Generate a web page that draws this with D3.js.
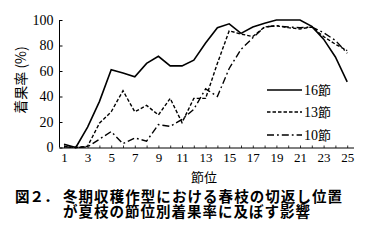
<!DOCTYPE html>
<html><head><meta charset="utf-8">
<script src="https://cdn.jsdelivr.net/npm/d3@7"></script>
<style>
html,body{margin:0;padding:0;background:#fff;}
svg{display:block;}
.serif{font-family:"Liberation Serif","DejaVu Serif",serif;}
</style></head>
<body>
<svg id="c" width="384" height="241"></svg>
<script>
const nodes = d3.range(1, 26);
const xTicks = [1,3,5,7,9,11,13,15,17,19,21,23,25];
const yTicks = [0,20,40,60,80,100];
const s16 = [2.5,0,16,36,61,58.5,55.5,66,71.5,64,64,68.5,82,94,97,89.5,94.5,97.5,100,100,100,95,85,71,51.5];
const s13 = [1,0,1,19,28,44.5,28,33,25.5,38.5,19.5,38.5,38.5,66,91.5,89,87,94.5,95.5,94,93,94.5,87,81,76];
const s10 = [0.5,0,0.5,6.5,12.5,3,7.5,5,18,16.5,22,30,46,40,62,77,86,94.5,95.5,94.5,94,94.5,90,84,74];
const seriesNames = ["16","13","10"];
const seriesData = [s16, s13, s10];
const dashes = [null, "3.5,2", "7,3,1.8,3"];

const svg = d3.select("#c");
const x = d3.scaleLinear().domain([1,25]).range([64,347.2]);
const y = d3.scaleLinear().domain([0,100]).range([147.5,20]);
const cjk = "'Noto Sans CJK JP',sans-serif";

svg.append("line").attr("x1",59.5).attr("x2",59.5).attr("y1",y(100)).attr("y2",y(0)).attr("stroke","#000").attr("stroke-width",1);
svg.append("line").attr("x1",59.5).attr("x2",354).attr("y1",y(0)+0.5).attr("y2",y(0)+0.5).attr("stroke","#000").attr("stroke-width",1);

const yAxis = d3.axisLeft(y).tickValues(yTicks).tickSize(-3).tickPadding(6).tickFormat(d3.format("d"));
const gy = svg.append("g").attr("transform","translate(59.5,0)").call(yAxis);
gy.attr("font-family",null).attr("font-size",null);
gy.select(".domain").remove();
gy.selectAll("text").attr("class","serif").style("font-size","14px").attr("fill","#000");
gy.selectAll("line").attr("stroke","#000");

const xAxis = d3.axisBottom(x).tickValues(nodes).tickSize(-2.5).tickPadding(5).tickFormat(d => xTicks.includes(d) ? d : "");
const gx = svg.append("g").attr("transform",`translate(0,${y(0)+0.5})`).call(xAxis);
gx.attr("font-family",null).attr("font-size",null);
gx.select(".domain").remove();
gx.selectAll("text").attr("class","serif").style("font-size","13px").attr("fill","#000");
gx.selectAll("line").attr("stroke","#000").attr("stroke-width",0.8);

const line = d3.line().x((d,i)=>x(nodes[i])).y(d=>y(d));
seriesData.forEach((s,k)=>{
  svg.append("path").datum(s).attr("d",line).attr("fill","none")
    .attr("stroke","#000").attr("stroke-width", k===0?1.6:1.4)
    .attr("stroke-dasharray",dashes[k]);
});

const legY = [90,112,135];
seriesNames.forEach((n,k)=>{
  svg.append("line").attr("x1",267).attr("x2",302).attr("y1",legY[k]).attr("y2",legY[k])
    .attr("stroke","#000").attr("stroke-width",k===0?1.6:1.4).attr("stroke-dasharray",dashes[k]);
  const t = svg.append("text").attr("x",304).attr("y",legY[k]+5).style("font-size","14px");
  t.append("tspan").attr("class","serif").text(n);
  t.append("tspan").style("font-family",cjk).style("font-size","13px").text("節");
});

svg.append("text").attr("transform","translate(26,80) rotate(-90)").attr("text-anchor","middle")
  .style("font-family",cjk).style("font-size","14px").attr("fill","#000").text("着果率 (%)");
svg.append("text").attr("x",204).attr("y",181.5).attr("text-anchor","middle")
  .style("font-family",cjk).style("font-size","13px").text("節位");

const cap = svg.append("text").style("font-family",cjk).style("font-weight","bold").style("font-size","14.5px");
cap.append("tspan").attr("x",15).attr("y",202).text("図２．");
cap.append("tspan").attr("x",63).attr("y",202).attr("textLength",279).attr("lengthAdjust","spacing").text("冬期収穫作型における春枝の切返し位置");
cap.append("tspan").attr("x",63).attr("y",217).attr("textLength",247).attr("lengthAdjust","spacing").text("が夏枝の節位別着果率に及ぼす影響");
</script>
</body></html>
